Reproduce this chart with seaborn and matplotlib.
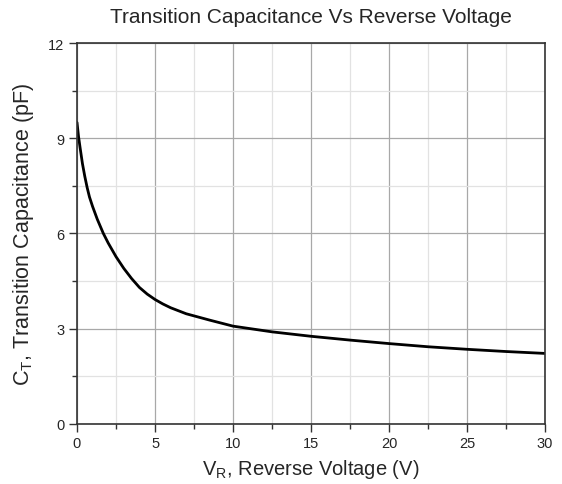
import matplotlib
matplotlib.use("Agg")
import matplotlib.pyplot as plt
import seaborn as sns
import pandas as pd
from matplotlib.ticker import MultipleLocator

# Data
voltage = [0, 0.1, 0.2, 0.35, 0.5, 0.65, 0.8, 1.0, 1.3, 1.69, 2.0, 2.5, 3.0, 3.5, 4.0, 4.5, 5.0, 5.5, 6.0, 7.0, 8.5, 10, 12.5, 15, 17.5, 20, 22.5, 25, 27.5, 30]
capacitance = [9.5, 9.05, 8.7, 8.2, 7.8, 7.45, 7.15, 6.85, 6.45, 6.0, 5.7, 5.27, 4.9, 4.58, 4.3, 4.09, 3.92, 3.78, 3.66, 3.47, 3.27, 3.08, 2.9, 2.76, 2.64, 2.53, 2.43, 2.35, 2.28, 2.22]
x_ticks = [0, 5, 10, 15, 20, 25, 30]
y_ticks = [0, 3, 6, 9, 12]

sns.set_style("white")
plt.rcParams['font.family'] = ['Liberation Sans', 'DejaVu Sans']
plt.rcParams['mathtext.fontset'] = 'custom'
plt.rcParams['mathtext.rm'] = 'Liberation Sans'
plt.rcParams['mathtext.it'] = 'Liberation Sans'
plt.rcParams['mathtext.default'] = 'regular'

df = pd.DataFrame({"V": voltage, "C": capacitance})

fig = plt.figure(figsize=(5.62, 4.85), dpi=100)
ax = fig.add_axes([0.137, 0.124, 0.833, 0.785])
sns.lineplot(data=df, x="V", y="C", ax=ax, color="black", linewidth=2.0, sort=True)

ax.set_xlim(0, 30)
ax.set_ylim(0, 12)
ax.set_xticks(x_ticks)
ax.set_yticks(y_ticks)
ax.xaxis.set_minor_locator(MultipleLocator(2.5))
ax.yaxis.set_minor_locator(MultipleLocator(1.5))
ax.grid(which="major", color="#a8a8a8", linewidth=0.9)
ax.grid(which="minor", color="#e2e2e2", linewidth=0.9)
ax.set_axisbelow(True)
for s in ax.spines.values():
    s.set_color("#333333")
    s.set_linewidth(1.2)
ax.tick_params(axis="both", which="major", direction="out", length=6, width=1, color="#333333",
               labelsize=10.5, left=True, bottom=True, top=False, right=False, pad=3)
ax.tick_params(axis="both", which="minor", direction="out", length=3.5, width=1, color="#333333",
               left=True, bottom=True, top=False, right=False)

ax.set_xlabel("V$_R$, Reverse Voltage (V)", fontsize=14.5, labelpad=5)
ax.set_ylabel("C$_T$, Transition Capacitance (pF)", fontsize=15.5, labelpad=9)
ax.set_title("Transition Capacitance Vs Reverse Voltage", fontsize=15, pad=15)

fig.savefig("out.png", dpi=100)
